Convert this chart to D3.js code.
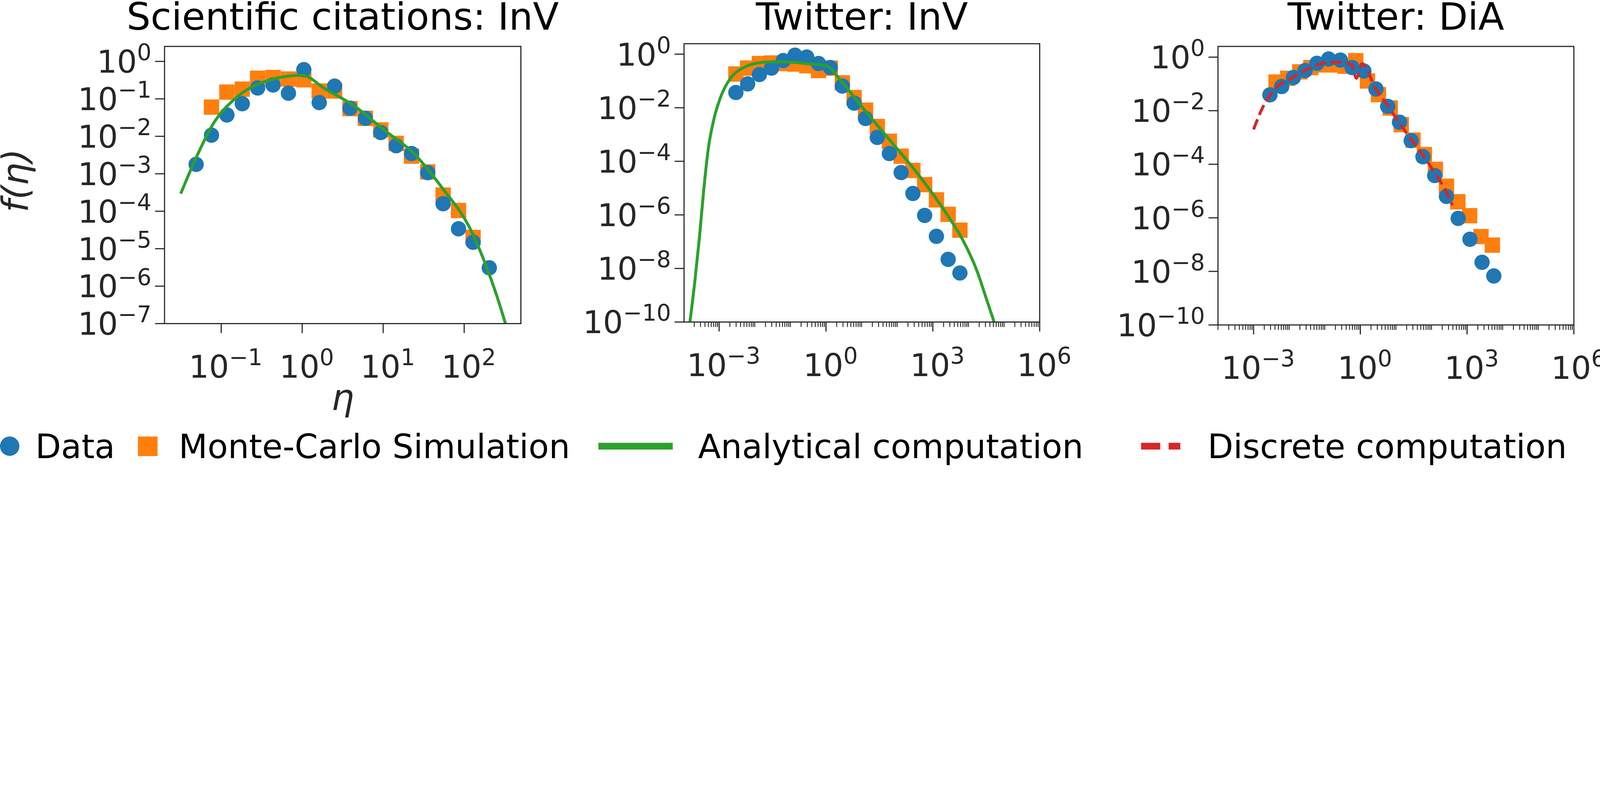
<!DOCTYPE html>
<html>
<head>
<meta charset="utf-8">
<script src="https://cdn.jsdelivr.net/npm/d3@7"></script>
<style>
  html, body { margin: 0; padding: 0; background: #fff; overflow: hidden; }
  svg { display: block; width: 100vw; height: 100vh; }
  text { font-family: "DejaVu Sans", sans-serif; }
</style>
</head>
<body>
<svg id="chart" viewBox="0 0 7099 2056" preserveAspectRatio="xMidYMin meet"></svg>
<script>
// values are log10 of eta and f(eta)
const citeDataX = [-1.31,-1.12,-0.93,-0.74,-0.55,-0.36,-0.17,0.02,0.21,0.40,0.59,0.78,0.97,1.16,1.35,1.55,1.74,1.93,2.11,2.31];
const citeDataY = [-2.75,-1.97,-1.43,-1.13,-0.71,-0.63,-0.85,-0.22,-1.10,-0.66,-1.25,-1.52,-1.90,-2.25,-2.46,-2.97,-3.80,-4.47,-4.83,-5.51];
const citeMcX = [-1.12,-0.93,-0.74,-0.55,-0.36,-0.17,0.02,0.21,0.40,0.59,0.78,0.97,1.16,1.35,1.55,1.74,1.93,2.11];
const citeMcY = [-1.22,-0.82,-0.74,-0.45,-0.43,-0.47,-0.49,-0.79,-0.79,-1.26,-1.52,-1.83,-2.19,-2.53,-2.95,-3.57,-3.98,-4.70];
const citeFitX = [-1.50,-1.32,-1.10,-0.81,-0.45,0.00,0.28,0.65,1.01,1.38,1.74,2.06,2.28,2.40,2.51];
const citeFitY = [-3.53,-2.62,-1.67,-0.96,-0.53,-0.37,-0.73,-1.20,-1.83,-2.46,-3.41,-4.41,-5.51,-6.24,-7.00];

const twInvDataX = [-2.53,-2.20,-1.87,-1.53,-1.20,-0.87,-0.54,-0.21,0.12,0.46,0.79,1.11,1.44,1.78,2.11,2.44,2.77,3.10,3.43,3.76];
const twInvDataY = [-1.43,-1.11,-0.76,-0.52,-0.24,-0.04,-0.11,-0.35,-0.50,-1.19,-1.83,-2.40,-3.11,-3.71,-4.42,-5.20,-6.02,-6.80,-7.66,-8.17];
const twInvMcX = [-2.53,-2.20,-1.87,-1.53,-1.20,-0.87,-0.54,-0.21,0.12,0.46,0.79,1.11,1.44,1.78,2.11,2.44,2.77,3.10,3.43,3.76];
const twInvMcY = [-0.74,-0.52,-0.35,-0.33,-0.35,-0.37,-0.43,-0.61,-0.52,-1.07,-1.62,-2.09,-2.70,-3.25,-3.81,-4.34,-4.87,-5.44,-5.98,-6.57];
const twInvFitX = [-3.82,-3.68,-3.55,-3.43,-3.30,-3.14,-2.93,-2.68,-2.31,-1.73,-1.23,-0.56,0.00,0.43,0.93,1.76,2.59,3.42,3.83,4.25,4.50,4.72];
const twInvFitY = [-10,-8.46,-6.80,-5.04,-3.49,-2.39,-1.51,-0.90,-0.50,-0.30,-0.28,-0.35,-0.43,-1.01,-1.84,-3.16,-4.49,-6.03,-6.91,-8.13,-9.12,-10];

const twDiaDataX = [-2.54,-2.21,-1.88,-1.55,-1.22,-0.89,-0.56,-0.23,0.10,0.44,0.77,1.10,1.43,1.76,2.09,2.42,2.75,3.08,3.42,3.75];
const twDiaDataY = [-1.41,-1.10,-0.76,-0.50,-0.23,-0.07,-0.11,-0.39,-0.52,-1.19,-1.84,-2.43,-3.12,-3.72,-4.42,-5.20,-6.02,-6.80,-7.66,-8.17];
const twDiaMcX = [-2.37,-2.04,-1.70,-1.39,-1.06,-0.73,-0.43,-0.13,0.20,0.51,0.84,1.15,1.48,1.80,2.11,2.42,2.74,3.07,3.39,3.71];
const twDiaMcY = [-0.93,-0.79,-0.55,-0.39,-0.29,-0.29,-0.34,-0.13,-0.89,-1.40,-1.90,-2.52,-3.10,-3.64,-4.19,-4.82,-5.40,-5.92,-6.70,-7.02];
const twDiaDiscX = [-3.00,-2.73,-2.39,-1.90,-1.32,-0.90,-0.49,-0.24,-0.11,0.05,0.43,0.76,1.09,1.42,1.76,2.09,2.42,2.59];
const twDiaDiscY = [-2.70,-1.84,-1.18,-0.76,-0.35,-0.19,-0.19,-0.30,-0.79,-0.24,-1.18,-1.79,-2.45,-3.05,-3.66,-4.32,-5.04,-5.53];

const titles = ["Scientific citations: InV", "Twitter: InV", "Twitter: DiA"];
const legendLabels = ["Data", "Monte-Carlo Simulation", "Analytical computation", "Discrete computation"];

const C = { data: "#1f77b4", mc: "#ff7f0e", fit: "#2ca02c", disc: "#d62728", axis: "#262626" };

const panels = [
  { title: titles[0], x0: 730, x1: 2311, y0: 206, y1: 1436, xd: [-1.70, 2.70], yd: [-7, 0.40],
    xLab: [-1, 0, 1, 2], xMinor: false, yLab: d3.range(0, -8, -1),
    data: [citeDataX, citeDataY], mc: [citeMcX, citeMcY], fit: [citeFitX, citeFitY] },
  { title: titles[1], x0: 3035, x1: 4613, y0: 194, y1: 1429, xd: [-3.985, 6], yd: [-10, 0.39],
    xLab: [-3, 0, 3, 6], xMinor: true, yLab: d3.range(0, -11, -2),
    data: [twInvDataX, twInvDataY], mc: [twInvMcX, twInvMcY], fit: [twInvFitX, twInvFitY] },
  { title: titles[2], x0: 5404, x1: 6983, y0: 206, y1: 1442, xd: [-4.0, 6], yd: [-10, 0.40],
    xLab: [-3, 0, 3, 6], xMinor: true, yLab: d3.range(0, -11, -2),
    data: [twDiaDataX, twDiaDataY], mc: [twDiaMcX, twDiaMcY], disc: [twDiaDiscX, twDiaDiscY] }
];

const svg = d3.select("#chart");
const TICK = 140;

function powLabel(sel, e) {
  sel.append("tspan").text("10");
  sel.append("tspan").attr("dy", "-0.55em").attr("font-size", "72%")
    .text(e < 0 ? "\u2212" + (-e) : String(e));
}

panels.forEach((p, i) => {
  const x = d3.scaleLog().domain(p.xd.map(v => 10 ** v)).range([p.x0, p.x1]);
  const y = d3.scaleLog().domain(p.yd.map(v => 10 ** v)).range([p.y1, p.y0]);
  const g = svg.append("g");

  const pts = (xs, ys) => xs.map((v, k) => [10 ** v, 10 ** ys[k]]);
  const line = d3.line().x(d => x(d[0])).y(d => y(d[1])).curve(d3.curveMonotoneX);

  g.append("clipPath").attr("id", "clip" + i).append("rect")
    .attr("x", p.x0).attr("y", p.y0).attr("width", p.x1 - p.x0).attr("height", p.y1 - p.y0);
  const plot = g.append("g").attr("clip-path", `url(#clip${i})`);

  plot.selectAll("rect.mc").data(pts(...p.mc)).join("rect")
    .attr("x", d => x(d[0]) - 34).attr("y", d => y(d[1]) - 34)
    .attr("width", 68).attr("height", 68).attr("fill", C.mc);
  plot.selectAll("circle").data(pts(...p.data)).join("circle")
    .attr("cx", d => x(d[0])).attr("cy", d => y(d[1])).attr("r", 34).attr("fill", C.data);
  if (p.fit) plot.append("path").attr("d", line(pts(...p.fit)))
    .attr("fill", "none").attr("stroke", C.fit).attr("stroke-width", 13);
  if (p.disc) plot.append("path").attr("d", line(pts(...p.disc)))
    .attr("fill", "none").attr("stroke", C.disc).attr("stroke-width", 13)
    .attr("stroke-dasharray", "48,21");

  // frame
  g.append("rect").attr("x", p.x0).attr("y", p.y0).attr("width", p.x1 - p.x0).attr("height", p.y1 - p.y0)
    .attr("fill", "none").attr("stroke", C.axis).attr("stroke-width", 5);

  // x ticks
  if (p.xMinor) {
    const minors = [];
    for (let e = Math.floor(p.xd[0]); e < p.xd[1]; e++)
      for (let m = 1; m < 10; m++) {
        const v = m * 10 ** e;
        if (m === 1 && p.xLab.includes(e)) continue;
        if (v >= 10 ** p.xd[0] && v <= 10 ** p.xd[1]) minors.push(v);
      }
    g.selectAll("line.xmin").data(minors).join("line")
      .attr("x1", d => x(d)).attr("x2", d => x(d)).attr("y1", p.y1).attr("y2", p.y1 + 22)
      .attr("stroke", C.axis).attr("stroke-width", 4);
  }
  g.selectAll("line.xmaj").data(p.xLab).join("line")
    .attr("x1", d => x(10 ** d)).attr("x2", d => x(10 ** d)).attr("y1", p.y1).attr("y2", p.y1 + 42)
    .attr("stroke", C.axis).attr("stroke-width", 5);
  p.xLab.forEach(e => {
    const t = g.append("text").attr("x", x(10 ** e) + 20).attr("y", p.y1 + 240)
      .attr("text-anchor", "middle").attr("font-size", TICK).attr("fill", C.axis);
    powLabel(t, e);
  });

  // y ticks
  g.selectAll("line.ymaj").data(p.yLab).join("line")
    .attr("x1", p.x0 - 42).attr("x2", p.x0).attr("y1", d => y(10 ** d)).attr("y2", d => y(10 ** d))
    .attr("stroke", C.axis).attr("stroke-width", 5);
  p.yLab.forEach(e => {
    const t = g.append("text").attr("x", p.x0 - 58).attr("y", y(10 ** e) + 50)
      .attr("text-anchor", "end").attr("font-size", TICK).attr("fill", C.axis);
    powLabel(t, e);
  });

  g.append("text").attr("x", (p.x0 + p.x1) / 2).attr("y", 131).attr("text-anchor", "middle")
    .attr("font-size", 168).attr("fill", "#000").text(p.title);

  if (i === 0) {
    g.append("text").attr("x", (p.x0 + p.x1) / 2).attr("y", 1820).attr("text-anchor", "middle")
      .attr("font-size", 160).attr("font-style", "italic").attr("fill", C.axis).text("\u03b7");
    g.append("text").attr("transform", `translate(125,${(p.y0 + p.y1) / 2 - 20}) rotate(-90)`)
      .attr("text-anchor", "middle").attr("font-size", 160).attr("font-style", "italic")
      .attr("fill", C.axis).text("f(\u03b7)");
  }
});

// legend
const ly = 1980;
const leg = svg.append("g");
leg.append("circle").attr("cx", 43).attr("cy", ly).attr("r", 43).attr("fill", C.data);
leg.append("rect").attr("x", 612).attr("y", ly - 43).attr("width", 87).attr("height", 87).attr("fill", C.mc);
leg.append("line").attr("x1", 2655).attr("x2", 2985).attr("y1", ly).attr("y2", ly)
  .attr("stroke", C.fit).attr("stroke-width", 30);
leg.append("line").attr("x1", 5063).attr("x2", 5237).attr("y1", ly).attr("y2", ly)
  .attr("stroke", C.disc).attr("stroke-width", 30).attr("stroke-dasharray", "85,37");
[[157, 0], [793, 1], [3097, 2], [5358, 3]].forEach(([lx, k]) =>
  leg.append("text").attr("x", lx).attr("y", ly + 53).attr("font-size", 148).attr("fill", "#000")
    .text(legendLabels[k]));
</script>
</body>
</html>
